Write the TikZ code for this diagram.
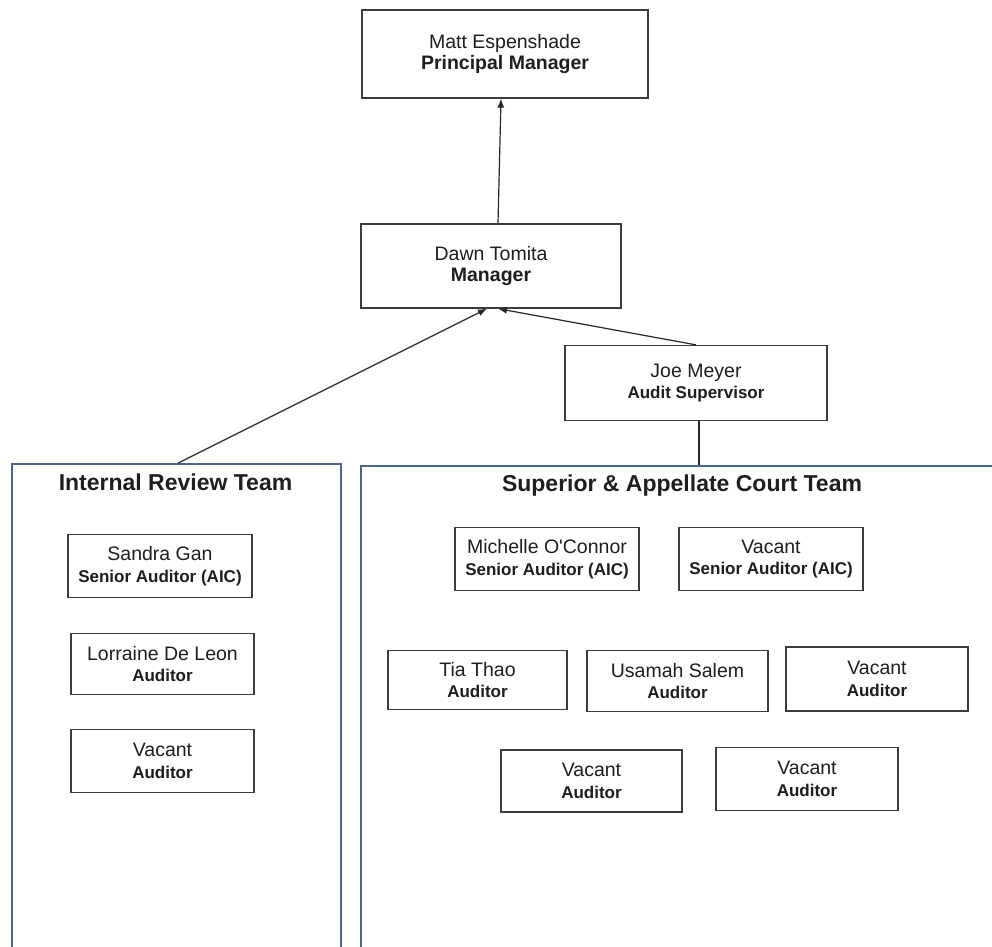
\documentclass[tikz,border=0pt]{standalone}
\usepackage{fontspec}
\setmainfont{Liberation Sans}[Ligatures=TeXOff]
\usetikzlibrary{arrows.meta}
\definecolor{boxline}{RGB}{60,60,60}
\definecolor{teamline}{RGB}{74,102,145}
\definecolor{txt}{RGB}{30,30,30}
\tikzset{
  person/.style={draw=boxline, line width=1.3pt, fill=white, inner sep=0pt, align=center,
    text=txt, font=\fontsize{19.5}{21.5}\selectfont},
  team/.style={draw=teamline, line width=2.4pt, anchor=north west, inner sep=0pt},
  teamtitle/.style={font=\fontsize{23}{26}\selectfont\bfseries, text=txt, inner sep=0pt},
  arr/.style={line width=1.2pt, draw=black!85, -{Latex[length=9pt,width=7pt]}},
  link/.style={line width=1.2pt, draw=black!85}
}
\newcommand{\rolesm}[1]{{\fontsize{17}{21.5}\selectfont\bfseries #1}}
\begin{document}
\begin{tikzpicture}[x=1pt,y=-1pt]
\useasboundingbox (0,0) rectangle (992,946);

% team containers
\node[team, minimum width=329pt, minimum height=520pt] (irt) at (11,463) {};
\node[team, minimum width=660pt, minimum height=520pt] (sac) at (360,465) {};
\node[teamtitle] (irtt) at (175.5,482) {Internal Review Team};
\node[teamtitle] (sact) at (682,486) {Superior \& Appellate Court Team};

% top hierarchy
\node[person, minimum width=286pt, minimum height=88pt] (matt) at (505,54)
  {Matt Espenshade\\\textbf{Principal Manager}};
\node[person, minimum width=260pt, minimum height=84pt] (dawn) at (491,266)
  {Dawn Tomita\\\textbf{Manager}};
\node[person, minimum width=262pt, minimum height=75pt] (joe) at (696,383)
  {Joe Meyer\\\rolesm{Audit Supervisor}};

% internal review team
\node[person, minimum width=184pt, minimum height=63pt] (sandra) at (160,566)
  {Sandra Gan\\\rolesm{Senior Auditor (AIC)}};
\node[person, minimum width=183pt, minimum height=61pt] (lorraine) at (162.5,664)
  {Lorraine De Leon\\\rolesm{Auditor}};
\node[person, minimum width=183pt, minimum height=63pt] (vacl) at (162.5,761)
  {Vacant\\\rolesm{Auditor}};

% superior & appellate court team
\node[person, minimum width=184pt, minimum height=63pt] (michelle) at (547,559)
  {Michelle O'Connor\\\rolesm{Senior Auditor (AIC)}};
\node[person, minimum width=184pt, minimum height=63pt] (vacs) at (771,559)
  {Vacant\\\rolesm{Senior Auditor (AIC)}};
\node[person, minimum width=179pt, minimum height=59pt] (tia) at (477.5,680)
  {Tia Thao\\\rolesm{Auditor}};
\node[person, minimum width=181pt, minimum height=61pt] (usamah) at (677.5,681)
  {Usamah Salem\\\rolesm{Auditor}};
\node[person, minimum width=182pt, minimum height=64pt] (vacr) at (877,679)
  {Vacant\\\rolesm{Auditor}};
\node[person, minimum width=181pt, minimum height=62pt] (vacb1) at (591.5,781)
  {Vacant\\\rolesm{Auditor}};
\node[person, minimum width=182pt, minimum height=63pt] (vacb2) at (807,779)
  {Vacant\\\rolesm{Auditor}};

% connectors
\draw[arr] ([xshift=7pt]dawn.north) -- ([xshift=-4pt]matt.south);
\draw[arr] ([xshift=1.5pt]irt.north) -- ([xshift=-4pt]dawn.south);
\draw[arr] (joe.north) -- ([xshift=7pt]dawn.south);
\draw[link] ([xshift=3pt]joe.south) -- ([xshift=3pt]joe.south |- sac.north);
\end{tikzpicture}
\end{document}
